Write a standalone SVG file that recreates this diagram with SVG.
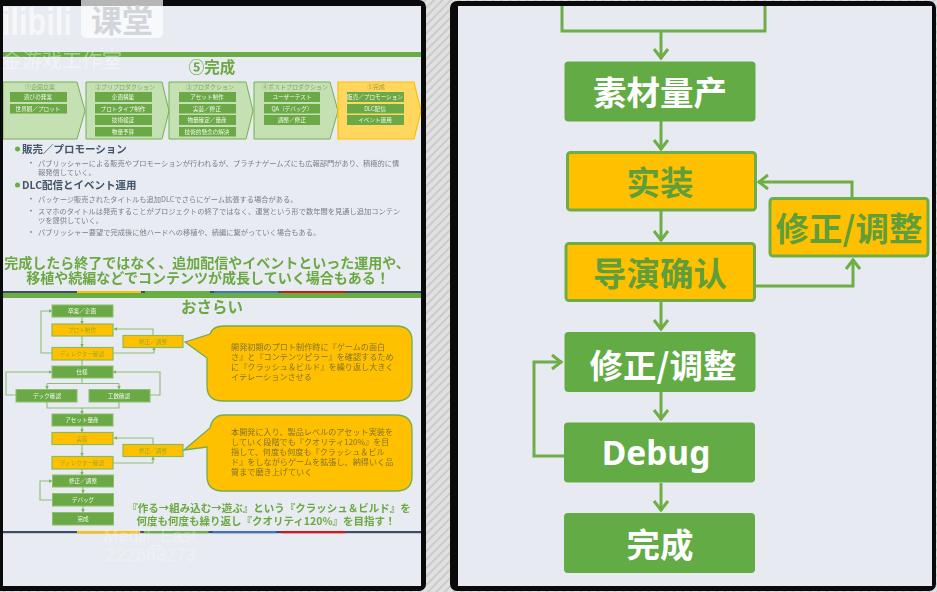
<svg xmlns="http://www.w3.org/2000/svg" width="937" height="592" viewBox="0 0 937 592">
<style>
text{font-family:"Noto Sans CJK JP","Noto Sans",sans-serif}
.big{font-family:"Noto Sans CJK SC","Noto Sans",sans-serif;font-size:33.500px;font-weight:700;text-anchor:middle}
.w{fill:#fff}.gt{fill:#5f9e3a}
.gn{fill:#63ab45}.go{fill:#ffc000;stroke:#6fae47;stroke-width:3}
.gnS{fill:#6aa944;stroke:#8cc06c;stroke-width:1}.goS{fill:#ffc000;stroke:#8dbb55;stroke-width:1.2}
.c{fill:none;stroke:#6fae47;stroke-width:3;marker-end:url(#ch)}
.s{fill:none;stroke:#8fbe72;stroke-width:1.1}
.sa{fill:none;stroke:#8fbe72;stroke-width:1.1;marker-end:url(#ta)}
.st{font-size:5.6px;text-anchor:middle;fill:#f4f8ee}
.sg{font-size:5.6px;text-anchor:middle;fill:#9aa92c}
.ch{fill:#c5e0b3;stroke:#74b04f;stroke-width:1}
.chg{fill:#ffd75e;stroke:#ffc000;stroke-width:1.2}
.ib{fill:#6aa944}
.h{font-size:6px;text-anchor:middle;fill:#7fa868}
.hg{font-size:6px;text-anchor:middle;fill:#a69a3a}
.head{font-size:10.5px;font-weight:700;fill:#44546a}
.li{font-size:7.25px;fill:#7b7f88}
.bu{fill:#7b7f88}
.call{fill:#ffc000;stroke:#74ad4c;stroke-width:1.3}
.ct{font-size:8.15px;fill:#83732a}
.wm{fill:#fff;opacity:.25;font-family:"Liberation Sans",sans-serif}
</style>
<defs>
<pattern id="hatch" width="6" height="6" patternUnits="userSpaceOnUse" patternTransform="rotate(45)">
<rect width="6" height="6" fill="#e0e0e0"/><rect width="2" height="6" fill="#cbcbcb"/>
</pattern>
<marker id="ch" markerUnits="userSpaceOnUse" markerWidth="20" markerHeight="20" refX="11" refY="8" orient="auto" overflow="visible">
<path d="M1 1L10 8L1 15" fill="none" stroke="#6fae47" stroke-width="3"/>
</marker>
<marker id="ta" markerUnits="userSpaceOnUse" markerWidth="6" markerHeight="6" refX="3.4" refY="2" orient="auto">
<path d="M0 0L3.6 2L0 4Z" fill="#7fb35c"/>
</marker>
<filter id="soft" x="0" y="0" width="100%" height="100%"><feGaussianBlur stdDeviation="0.35"/></filter>
</defs>

<rect width="937" height="592" fill="url(#hatch)"/>
<rect x="-6" y="0" width="432" height="591" rx="7" fill="#0a0a0a"/>
<rect x="450" y="1" width="486" height="590" rx="7" fill="#0a0a0a"/>
<rect x="3" y="6" width="418" height="580" fill="#e8ebf1"/>
<rect x="458" y="6" width="474" height="580" fill="#e7ebf1"/>

<g id="left-panel" filter="url(#soft)">
<g id="slide-top">
<rect x="3" y="52" width="418" height="5" fill="#6aad45"/>
<text x="212" y="73" font-size="15.5" font-weight="700" text-anchor="middle" fill="#6aa842">⑤完成</text>
</g>
<g id="phase-1">
<path class="ch" d="M3 82H77L85 111L77 139H3Z"/>
<text class="h" x="40" y="88.5">①企画立案</text>
<rect class="ib" x="10" y="92" width="57" height="10"/><text class="st" x="38" y="99">遊びの発案</text>
<rect class="ib" x="10" y="104" width="57" height="9.500"/><text class="st" x="38" y="111">世界観&#xFF0F;プロット</text>
</g>
<g id="phase-2">
<path class="ch" d="M86 82H162L169 111L162 139H86Z"/>
<text class="h" x="125" y="88.5">②プリプロダクション</text>
<rect class="ib" x="95" y="92" width="57" height="10"/><text class="st" x="123" y="99">企画構築</text>
<rect class="ib" x="95" y="104" width="57" height="9.500"/><text class="st" x="123" y="111">プロトタイプ制作</text>
<rect class="ib" x="95" y="115" width="57" height="10"/><text class="st" x="123" y="122">技術検証</text>
<rect class="ib" x="95" y="127" width="57" height="9.500"/><text class="st" x="123" y="134">物量予算</text>
</g>
<g id="phase-3">
<path class="ch" d="M169 82H246L253 111L246 139H169Z"/>
<text class="h" x="210" y="88.5">③プロダクション</text>
<rect class="ib" x="179" y="92" width="57" height="10"/><text class="st" x="207" y="99">アセット制作</text>
<rect class="ib" x="179" y="104" width="57" height="9.500"/><text class="st" x="207" y="111">実装&#xFF0F;修正</text>
<rect class="ib" x="179" y="115" width="57" height="10"/><text class="st" x="207" y="122">物量確定&#xFF0F;量産</text>
<rect class="ib" x="179" y="127" width="57" height="9.500"/><text class="st" x="207" y="134">技術的懸念の解決</text>
</g>
<g id="phase-4">
<path class="ch" d="M254 82H330L338 111L330 139H254Z"/>
<text class="h" x="295" y="88.5">④ポストプロダクション</text>
<rect class="ib" x="264" y="92" width="56" height="10"/><text class="st" x="292" y="99">ユーザーテスト</text>
<rect class="ib" x="264" y="104" width="56" height="9.500"/><text class="st" x="292" y="111">QA&#xFF08;デバッグ&#xFF09;</text>
<rect class="ib" x="264" y="115" width="56" height="10"/><text class="st" x="292" y="122">調整&#xFF0F;修正</text>
</g>
<g id="phase-5">
<path class="chg" d="M338 82H414L421 111L414 139H338Z"/>
<text class="hg" x="376" y="88.5">⑤完成</text>
<rect class="ib" x="347" y="92" width="57" height="10"/><text class="st" x="375" y="99">販売&#xFF0F;プロモーション</text>
<rect class="ib" x="347" y="104" width="57" height="9.500"/><text class="st" x="375" y="111">DLC配信</text>
<rect class="ib" x="347" y="115" width="57" height="10"/><text class="st" x="375" y="122">イベント運用</text>
</g>
<g id="slide-body">
<circle cx="17.500" cy="149" r="2.500" fill="#6aad45"/>
<text class="head" x="22" y="153">販売&#xFF0F;プロモーション</text>
<circle class="bu" cx="31" cy="162.700" r=".9"/>
<text class="li" x="38" y="165.500">パブリッシャーによる販売やプロモーションが行われるが、プラチナゲームズにも広報部門があり、積極的に情</text>
<text class="li" x="38" y="175">報発信していく。</text>
<circle cx="17.500" cy="185" r="2.500" fill="#6aad45"/>
<text class="head" x="22" y="189">DLC配信とイベント運用</text>
<circle class="bu" cx="31" cy="198.700" r=".9"/>
<text class="li" x="38" y="201.500">パッケージ販売されたタイトルも追加DLCでさらにゲーム拡張する場合がある。</text>
<circle class="bu" cx="31" cy="210.700" r=".9"/>
<text class="li" x="38" y="213.500">スマホのタイトルは発売することがプロジェクトの終了ではなく、運営という形で数年間を見通し追加コンテン</text>
<text class="li" x="38" y="222.500">ツを提供していく。</text>
<circle class="bu" cx="31" cy="232" r=".9"/>
<text class="li" x="38" y="234.500">パブリッシャー要望で完成後に他ハードへの移植や、続編に繋がっていく場合もある。</text>
<text x="207" y="268" font-size="14" font-weight="700" text-anchor="middle" fill="#6aa842">完成したら終了ではなく、追加配信やイベントといった運用や、</text>
<text x="208" y="283" font-size="14" font-weight="700" text-anchor="middle" fill="#6aa842">移植や続編などでコンテンツが成長していく場合もある&#xFF01;</text>
</g>
<g id="bar-1">
<rect x="3" y="291" width="418" height="7" fill="#6aad45"/>
<rect x="3" y="291" width="418" height="2" fill="#3e5068"/>
<rect x="77" y="291" width="64" height="2" fill="#ffc000"/>
<rect x="145" y="291" width="65" height="2" fill="#6aad45"/>
<rect x="214" y="291" width="64" height="2" fill="#4472c4"/>
<rect x="282" y="291" width="64" height="2" fill="#d81818"/>
</g>
<text id="recap-title" x="212" y="313" font-size="15.500" font-weight="700" text-anchor="middle" fill="#6aa842">おさらい</text>

<g id="flow-connectors">
<path class="sa" d="M82 317V324"/><path class="sa" d="M82 336V347"/>
<path class="sa" d="M52 353H41V311H52"/>
<path class="sa" d="M113 353H154V347"/>
<path class="sa" d="M153 335V329H114"/>
<path class="s" d="M82 360V366"/><path class="s" d="M82 378V383.500"/>
<path class="s" d="M47 383.500H119"/><path class="sa" d="M47 383.500V389"/><path class="sa" d="M119 383.500V389"/>
<path class="sa" d="M16 395H6V372H52"/>
<path class="sa" d="M150 395H160V372H113"/>
<path class="s" d="M47 402V408H119V402"/><path class="sa" d="M82 408V414"/>
<path class="sa" d="M82 426V432"/><path class="sa" d="M82 445V456"/>
<path class="sa" d="M153 444V438H114"/>
<path class="sa" d="M113 463H153V457"/>
<path class="sa" d="M82 469V475"/><path class="sa" d="M83 487V493"/><path class="sa" d="M83 506V512"/>
<path class="sa" d="M52 500H40V481H52"/>
</g>
<g id="f-1"><rect class="gnS" x="52" y="305" width="61" height="12"/><text class="st" x="82" y="313">卒案&#xFF0F;企画</text></g>
<g id="f-2"><rect class="goS" x="52" y="324" width="61" height="12"/><text class="sg" x="82" y="332">プロト制作</text></g>
<g id="f-3"><rect class="goS" x="52" y="347.500" width="61" height="12.500"/><text class="sg" x="82" y="356">ディレクター確認</text></g>
<g id="f-4"><rect class="gnS" x="52" y="366" width="61" height="12"/><text class="st" x="82" y="374">仕様</text></g>
<g id="f-5"><rect class="gnS" x="16" y="389.500" width="61" height="12.500"/><text class="st" x="47" y="398">デック確認</text></g>
<g id="f-6"><rect class="gnS" x="89" y="389.500" width="61" height="12.500"/><text class="st" x="119" y="398">工数確認</text></g>
<g id="f-7"><rect class="gnS" x="52" y="414" width="61" height="12"/><text class="st" x="82" y="422">アセット量産</text></g>
<g id="f-8"><rect class="goS" x="52" y="432.500" width="61" height="12"/><text class="sg" x="82" y="440.500">実装</text></g>
<g id="f-9"><rect class="goS" x="52" y="456.500" width="61" height="12.500"/><text class="sg" x="82" y="465">ディレクター確認</text></g>
<g id="f-10"><rect class="gnS" x="52.500" y="475" width="61" height="12"/><text class="st" x="83" y="483">修正&#xFF0F;調整</text></g>
<g id="f-11"><rect class="gnS" x="52.500" y="493.500" width="61" height="12.500"/><text class="st" x="83" y="501.500">デバッグ</text></g>
<g id="f-12"><rect class="gnS" x="52.500" y="512.500" width="61" height="12.500"/><text class="st" x="83" y="520.500">完成</text></g>
<g id="f-13"><rect class="goS" x="123" y="335.500" width="60" height="12"/><text class="sg" x="153" y="343.500">修正&#xFF0F;調整</text></g>
<g id="f-14"><rect class="goS" x="123" y="444.500" width="60" height="12"/><text class="sg" x="153" y="452.500">修正&#xFF0F;調整</text></g>

<g id="callout-1">
<path class="call" d="M185 342L210 334C212 328 217 326 224 326H396C406 326 412 331 412 341V386C412 396 406 401 396 401H223C213 401 207 396 207 386V358Z"/>
<text class="ct" x="231" y="350">開発初期のプロト制作時に『ゲームの面白</text>
<text class="ct" x="231" y="360">さ』と『コンテンツピラー』を確認するため</text>
<text class="ct" x="231" y="370">に『クラッシュ&#xFF06;ビルド』を繰り返し大きく</text>
<text class="ct" x="231" y="380">イテレーションさせる</text>
</g>
<g id="callout-2">
<path class="call" d="M184 450L210 428C212 419 217 415 224 415H396C406 415 412 420 412 430V476C412 486 406 491 396 491H223C213 491 207 486 207 476V447Z"/>
<text class="ct" x="231" y="435">本開発に入り、製品レベルのアセット実装を</text>
<text class="ct" x="231" y="445">していく段階でも『クオリティ120%』を目</text>
<text class="ct" x="231" y="455">指して、何度も何度も『クラッシュ&#xFF06;ビル</text>
<text class="ct" x="231" y="465">ド』をしながらゲームを拡張し、納得いく品</text>
<text class="ct" x="231" y="475">質まで磨き上げていく</text>
</g>
<g id="recap-summary">
<text x="269" y="512" font-size="10.500" font-weight="700" text-anchor="middle" fill="#6aa842">『作る→組み込む→遊ぶ』という『クラッシュ&#xFF06;ビルド』を</text>
<text x="266" y="525" font-size="10.500" font-weight="700" text-anchor="middle" fill="#6aa842">何度も何度も繰り返し『クオリティ120%』を目指す&#xFF01;</text>
</g>
<g id="bar-2">
<rect x="3" y="531" width="418" height="2.200" fill="#3e5068"/>
<rect x="77" y="531" width="63" height="2.200" fill="#ffc000"/>
<rect x="144.500" y="531" width="64" height="2.200" fill="#6aad45"/>
<rect x="213" y="531" width="63" height="2.200" fill="#4472c4"/>
<rect x="281" y="531" width="64" height="2.200" fill="#d81818"/>
</g>
</g>

<g id="watermarks">
<text x="2" y="35" font-size="38" font-weight="700" textLength="70" lengthAdjust="spacingAndGlyphs" fill="#fff" opacity=".6" style="font-family:'Liberation Sans',sans-serif">ilibili</text>
<rect x="81" y="-8" width="82" height="46" rx="5" fill="#fff" opacity=".7"/>
<text x="122" y="32" font-size="31" font-weight="700" text-anchor="middle" fill="#d2d5da">课堂</text>
<text x="62" y="68" font-size="20" text-anchor="middle" fill="#fff" opacity=".4" style="font-family:'Noto Sans CJK SC',sans-serif">金游戏工作室</text>
<text class="wm" x="150" y="542" font-size="18" text-anchor="middle">Medill_East</text>
<text class="wm" x="151" y="561" font-size="18" text-anchor="middle">222883273</text>
</g>

<g id="connectors">
<path d="M562 6V31H765V6" fill="none" stroke="#6fae47" stroke-width="3"/>
<path class="c" d="M661 31V59"/>
<path class="c" d="M661 121V150"/>
<path class="c" d="M661 211V241"/>
<path class="c" d="M661 301V330"/>
<path class="c" d="M661 392V420"/>
<path class="c" d="M661 483V511"/>
<path class="c" d="M852 198V182H758"/>
<path class="c" d="M755 286H853V259"/>
<path class="c" d="M564 456H534V362H562"/>
</g>
<g id="n-sucai"><rect class="gn" x="564.500" y="61.500" width="191" height="60" rx="4"/><text class="big w" x="660" y="105">素材量产</text></g>
<g id="n-shizhuang"><rect class="go" x="567.500" y="152.500" width="188" height="57.500" rx="3"/><text class="big gt" x="660" y="195">实装</text></g>
<g id="n-daoyan"><rect class="go" x="566" y="243.500" width="188.500" height="57" rx="3"/><text class="big gt" x="660" y="286">导演确认</text></g>
<g id="n-xiuzheng-a"><rect class="go" x="770" y="198.500" width="158" height="57.500" rx="3"/><text class="big gt" x="849" y="241">修正/调整</text></g>
<g id="n-xiuzheng-b"><rect class="gn" x="564.500" y="332" width="191" height="60" rx="4"/><text class="big w" x="663" y="378">修正/调整</text></g>
<g id="n-debug"><rect class="gn" x="564" y="422.500" width="191" height="60" rx="4"/><text x="656" y="465" font-size="33.500" font-weight="700" text-anchor="middle" fill="#fff" style="font-family:'Noto Sans',sans-serif">Debug</text></g>
<g id="n-wancheng"><rect class="gn" x="564" y="513" width="191" height="60" rx="4"/><text class="big w" x="660" y="557">完成</text></g>
</svg>
